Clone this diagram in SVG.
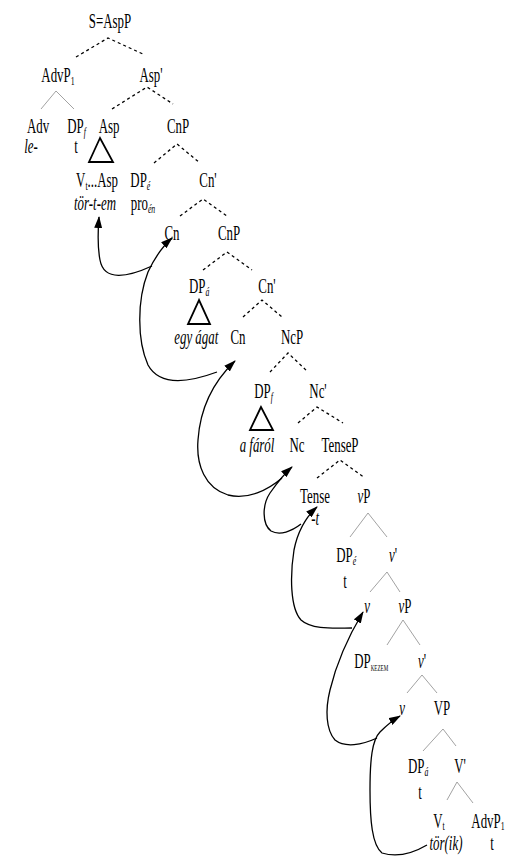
<svg xmlns="http://www.w3.org/2000/svg" width="514" height="857" viewBox="0 0 514 857">
<defs>
<style>
text{font-family:"Liberation Serif","Times New Roman",serif;font-size:21.5px;fill:#000;text-anchor:middle;transform-box:fill-box;transform-origin:center;transform:scaleX(0.6)}
.i{font-style:italic}
.sub{font-size:13px}
.sc{font-size:8.5px}
.d{stroke:#000;stroke-width:1.3;stroke-dasharray:3 3;fill:none}
.s{stroke:#8a8a8a;stroke-width:0.8;fill:none}
.tri{stroke:#000;stroke-width:1.8;fill:none}
.a{stroke:#000;stroke-width:1.3;fill:none;marker-end:url(#ah)}
</style>
<marker id="ah" markerUnits="userSpaceOnUse" markerWidth="12" markerHeight="8" refX="11" refY="4" orient="auto">
<path d="M0,0 L12,4 L0,8 z" fill="#000"/>
</marker>
</defs>

<g id="connectors">
<path class="d" d="M76,57 L108,38 L145,55"/>
<path class="s" d="M41,109 L56,91 L74,109"/>
<path class="d" d="M112,109 L147,87 L173,104"/>
<path class="d" d="M154,163 L177,144 L200,163"/>
<path class="d" d="M180,216 L203,199 L227,216"/>
<path class="d" d="M203,270 L227,252 L252,270"/>
<path class="d" d="M243,317 L262,300 L282,317"/>
<path class="d" d="M270,372 L288,353 L308,372"/>
<path class="d" d="M298,423 L317,407 L343,423"/>
<path class="d" d="M317,478 L340,460 L365,478"/>
<path class="s" d="M350,537 L368,513 L387,537"/>
<path class="s" d="M370,592 L387,572 L400,592"/>
<path class="s" d="M387,645 L403,620 L420,645"/>
<path class="s" d="M407,693 L422,675 L437,693"/>
<path class="s" d="M423,751 L443,729 L456,746"/>
<path class="s" d="M447,800 L457,782 L473,803"/>
<path class="tri" d="M100,138 L89,162 L113,162 Z"/>
<path class="tri" d="M199,300 L188,324 L210,324 Z"/>
<path class="tri" d="M261,407 L250,430 L273,430 Z"/>
<path class="a" d="M152,266 C128,277 104,282 100,260 C97,245 98,230 99,217"/>
<path class="a" d="M217,372 C190,382 160,387 148,365 C137,340 137,300 148,272 C155,257 163,246 172,238"/>
<path class="a" d="M282,478 C268,490 248,500 228,495 C205,488 196,465 198,440 C200,410 212,383 235,361"/>
<path class="a" d="M301,524 C292,531 280,536 271,531 C262,524 262,505 270,493 C277,483 284,474 292,467"/>
<path class="a" d="M352,628 C335,628 312,630 301,620 C290,608 290,575 294,550 C298,530 306,517 317,507"/>
<path class="a" d="M377,738 C362,745 345,748 335,740 C326,730 325,710 330,690 C336,665 348,637 363,612"/>
<path class="a" d="M427,845 C410,855 395,857 382,853 C372,845 370,820 370,790 C370,760 372,740 380,732 C387,725 393,720 400,716"/>
</g>

<g id="n-AspP"><text x="110" y="28">S=AspP</text></g>
<g id="n-AdvP1"><text x="58" y="82">AdvP<tspan class="sub" dy="3">1</tspan></text></g>
<g id="n-Asp1"><text x="151" y="82">Asp'</text></g>
<g id="n-Adv"><text x="38" y="133">Adv</text><text class="i" x="31" y="153">le-</text></g>
<g id="n-DPf1"><text x="76" y="133">DP<tspan class="sub i" dy="3">f</tspan></text><text x="76" y="153">t</text></g>
<g id="n-Asp"><text x="109" y="133">Asp</text></g>
<g id="n-VtAsp"><text x="97" y="187">V<tspan class="sub" dy="3">t</tspan><tspan dy="-3">...Asp</tspan></text><text class="i" x="95" y="210">tör-t-em</text></g>
<g id="n-CnP1"><text x="178" y="133">CnP</text></g>
<g id="n-DPe1"><text x="140" y="187">DP<tspan class="sub i" dy="3">é</tspan></text><text x="143" y="210">pro<tspan class="sub i" dy="3">én</tspan></text></g>
<g id="n-Cn1b"><text x="208" y="187">Cn'</text></g>
<g id="n-Cn1"><text x="172" y="240">Cn</text></g>
<g id="n-CnP2"><text x="229" y="240">CnP</text></g>
<g id="n-DPa1"><text x="199" y="293">DP<tspan class="sub i" dy="3">á</tspan></text><text class="i" x="196" y="344">egy ágat</text></g>
<g id="n-Cn2b"><text x="267" y="293">Cn'</text></g>
<g id="n-Cn2"><text x="238" y="344">Cn</text></g>
<g id="n-NcP"><text x="292" y="344">NcP</text></g>
<g id="n-DPf2"><text x="263" y="398">DP<tspan class="sub i" dy="3">f</tspan></text><text class="i" x="257" y="452">a fáról</text></g>
<g id="n-Ncb"><text x="318" y="398">Nc'</text></g>
<g id="n-Nc"><text x="297" y="452">Nc</text></g>
<g id="n-TenseP"><text x="340" y="452">TenseP</text></g>
<g id="n-Tense"><text x="315" y="503">Tense</text><text x="315" y="525">-<tspan class="i">t</tspan></text></g>
<g id="n-vP1"><text x="364" y="503"><tspan class="i">v</tspan>P</text></g>
<g id="n-DPe2"><text x="346" y="562">DP<tspan class="sub i" dy="3">é</tspan></text><text x="345" y="588">t</text></g>
<g id="n-vb1"><text x="393" y="562"><tspan class="i">v</tspan>'</text></g>
<g id="n-v1"><text class="i" x="367" y="613">v</text></g>
<g id="n-vP2"><text x="405" y="613"><tspan class="i">v</tspan>P</text></g>
<g id="n-DPkezem"><text x="371" y="668">DP<tspan class="sc" dy="3">KEZEM</tspan></text></g>
<g id="n-vb2"><text x="422" y="668"><tspan class="i">v</tspan>'</text></g>
<g id="n-v2"><text class="i" x="402" y="715">v</text></g>
<g id="n-VP"><text x="442" y="715">VP</text></g>
<g id="n-DPa2"><text x="418" y="773">DP<tspan class="sub i" dy="3">á</tspan></text><text x="420" y="799">t</text></g>
<g id="n-Vb"><text x="460" y="773">V'</text></g>
<g id="n-Vt"><text x="439" y="828">V<tspan class="sub" dy="2">t</tspan></text><text class="i" x="446" y="850">tör(ik)</text></g>
<g id="n-AdvP1b"><text x="488" y="828">AdvP<tspan class="sub" dy="2">1</tspan></text><text x="492" y="850">t</text></g>
</svg>
